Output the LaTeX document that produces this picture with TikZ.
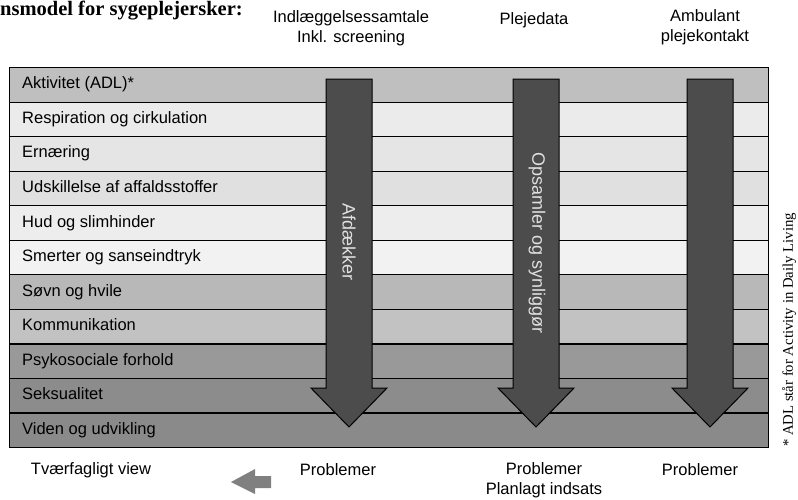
\documentclass[tikz,border=0pt]{standalone}
\usepackage{fontspec}
\setmainfont{Liberation Serif}
\setsansfont{Liberation Sans}
\usetikzlibrary{positioning}

\begin{document}
\begin{tikzpicture}[x=1pt,y=-1pt,
  row/.style={draw=black,line width=1.2pt,minimum width=759pt,minimum height=34.55pt,inner sep=0pt,anchor=north west},
  rowtext/.style={font=\sffamily\fontsize{16.5}{18}\selectfont,anchor=west,inner sep=0pt,text height=11.5pt,text depth=3.5pt},
  head/.style={font=\sffamily\fontsize{16.5}{20}\selectfont,align=center,inner sep=0pt},
  bigarrow/.style={draw=black,line width=1pt,fill=black!70},
  arrowtext/.style={font=\sffamily\fontsize{18}{20}\selectfont,text=black!12,rotate=-90,inner sep=0pt}]
\useasboundingbox (0,0) rectangle (798,499);
% title, at the left edge
\node[font=\bfseries\fontsize{20.5}{22}\selectfont,anchor=west,inner sep=0pt] (title) at (0,11) {nsmodel for sygeplejersker:};
% column heads
\node[head] (top1) at (351,28) {Indlæggelsessamtale\\Inkl. screening};
\node[head] (top2) at (534,20) {Plejedata};
\node[head] (top3) at (705,27) {Ambulant\\plejekontakt};
% the eleven areas
\foreach \i/\p/\txt in {0/25/Aktivitet (ADL)*, 1/8/Respiration og cirkulation, 2/10/Ernæring,
  3/12/Udskillelse af affaldsstoffer, 4/7/Hud og slimhinder, 5/5/Smerter og sanseindtryk,
  6/28/Søvn og hvile, 7/24/Kommunikation, 8/40/Psykosociale forhold, 9/45/Seksualitet,
  10/46/Viden og udvikling}{
  \node[row,fill=black!\p] (r\i) at (9,{67+\i*34.545}) {};
  \node[rowtext,right=13pt of r\i.west] (t\i) {\txt};
}
% big arrows
\foreach \n/\x in {a1/349,a2/536,a3/710}{
  \coordinate (\n) at (\x,79);
  \draw[bigarrow] (\x-23,79) -- (\x+23,79) -- (\x+23,388) -- (\x+38,388) -- (\x,427)
    -- (\x-38,388) -- (\x-23,388) -- cycle;
}
\node[arrowtext] (afd) at (349,242) {Afdækker};
\node[arrowtext] (ops) at (537,243) {Opsamler og synliggør};
% bottom line
\node[head] (tvf) at (91,470) {Tværfagligt view};
\fill[black!50] (231,482) -- (255,469) -- (255,476) -- (271,476) -- (271,488) -- (255,488) -- (255,494) -- cycle;
\node[head] (prob1) at (338,470) {Problemer};
\node[head] (prob2) at (544,480) {Problemer\\Planlagt indsats};
\node[head] (prob3) at (700,470) {Problemer};
% footnote
\node[rotate=90,font=\rmfamily\fontsize{14.75}{16}\selectfont,inner sep=0pt] (note) at (789,330) {* ADL står for Activity in Daily Living};
\end{tikzpicture}
\end{document}
